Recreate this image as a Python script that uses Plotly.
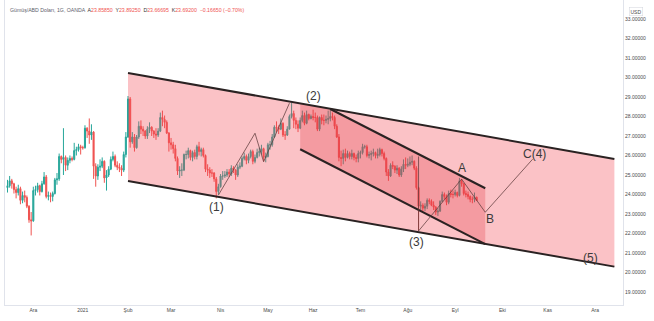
import numpy as np
import pandas as pd
import plotly.graph_objects as go

# ---------------- data ----------------
first_date = "2020-11-13"
last_date = "2021-09-15"
first_open = 24.35

months = ["2020-11", "2020-12", "2021-01", "2021-02", "2021-03", "2021-04",
          "2021-05", "2021-06", "2021-07", "2021-08", "2021-09"]

close_nov = [24.45, 24.70, 24.55, 24.25, 24.10, 24.30, 23.70, 23.95, 23.85, 23.40, 22.70, 22.65]
high_nov = [24.75, 24.95, 24.80, 24.60, 24.40, 24.50, 24.40, 24.15, 24.20, 23.95, 23.45, 23.10]
low_nov = [24.10, 24.35, 24.30, 24.05, 23.80, 23.95, 23.50, 23.55, 23.60, 23.30, 22.55, 21.90]

close_dec = [24.20, 24.25, 24.45, 24.15, 24.55, 24.90, 23.90, 23.95, 23.90, 24.05, 24.75, 24.80,
             25.95, 25.80, 25.90, 25.50, 25.75, 25.85, 25.80, 26.25, 26.30, 26.45, 26.40]
high_dec = [24.40, 24.45, 24.60, 24.50, 24.70, 25.15, 25.00, 24.15, 24.10, 24.15, 24.85, 25.10,
            26.10, 26.00, 27.40, 26.00, 25.90, 26.00, 25.95, 26.65, 26.45, 26.60, 26.55]
low_dec = [22.60, 23.95, 24.10, 23.95, 24.10, 24.50, 23.80, 23.70, 23.60, 23.65, 24.00, 24.50,
           24.70, 25.60, 25.00, 25.20, 25.25, 25.60, 25.70, 25.75, 26.00, 26.20, 26.05]

close_jan = [26.40, 27.40, 27.25, 27.05, 27.20, 25.45, 24.95, 25.40, 25.45, 25.70, 24.85,
             25.00, 25.30, 25.80, 25.95, 25.50, 25.40, 25.35, 25.25, 26.05, 26.95]
high_jan = [26.50, 27.55, 27.45, 27.90, 27.60, 27.25, 25.60, 25.55, 25.80, 25.90, 25.75,
            25.25, 25.45, 25.95, 26.20, 26.05, 25.70, 25.60, 25.50, 26.20, 27.20]
low_jan = [26.30, 26.35, 26.90, 26.60, 26.80, 24.80, 24.40, 24.75, 25.20, 25.35, 24.60,
           24.20, 24.90, 25.25, 25.70, 25.40, 25.25, 25.15, 24.95, 25.15, 25.90]

close_feb = [28.90, 26.70, 26.95, 26.40, 26.95, 27.50, 27.35, 27.25, 27.00, 27.35,
             27.45, 27.25, 27.10, 27.05, 27.25, 27.95, 27.85, 27.70, 27.15, 26.65]
high_feb = [29.05, 29.00, 27.20, 27.10, 27.05, 27.75, 27.80, 27.50, 27.30, 27.50,
            27.70, 27.50, 27.30, 27.40, 27.40, 28.20, 28.30, 28.05, 27.80, 27.20]
low_feb = [26.90, 26.40, 26.60, 26.20, 26.35, 26.85, 27.10, 27.00, 26.85, 26.85,
           27.15, 27.00, 26.90, 26.80, 26.95, 27.20, 27.50, 27.40, 27.10, 26.20]

close_mar = [26.55, 26.35, 25.85, 25.20, 25.25, 25.25, 26.05, 26.05, 26.25, 25.90, 26.15, 25.95,
             26.45, 26.20, 26.30, 26.00, 25.30, 25.25, 25.10, 25.10, 24.80, 24.15, 24.40]
high_mar = [26.90, 26.70, 26.55, 25.95, 25.45, 25.60, 26.10, 26.25, 26.40, 26.30, 26.25, 26.30,
            26.55, 26.70, 26.40, 26.40, 26.05, 25.55, 25.40, 25.30, 25.15, 24.90, 24.55]
low_mar = [26.30, 26.10, 25.70, 25.00, 24.85, 24.95, 25.20, 25.80, 25.85, 25.75, 25.70, 25.80,
           25.80, 26.00, 25.95, 25.90, 25.15, 24.95, 24.85, 24.90, 24.65, 23.80, 24.00]

close_apr = [24.95, 24.95, 25.00, 25.15, 25.05, 25.35, 25.25, 25.00, 25.40, 25.45, 25.85,
             25.95, 25.75, 25.95, 26.20, 25.70, 25.90, 26.15, 26.20, 26.35, 25.90, 25.95]
high_apr = [25.05, 25.20, 25.20, 25.30, 25.30, 25.50, 25.45, 25.30, 25.55, 25.65, 25.95,
            26.15, 26.05, 26.10, 26.30, 26.30, 26.05, 26.35, 26.40, 26.55, 26.40, 26.15]
low_apr = [24.35, 24.75, 24.85, 24.90, 24.90, 24.95, 25.10, 24.75, 24.90, 25.30, 25.40,
           25.75, 25.55, 25.60, 25.85, 25.55, 25.60, 25.85, 25.95, 26.05, 25.70, 25.65]

close_may = [26.55, 26.55, 26.95, 27.45, 27.40, 27.35, 27.65, 27.05, 27.05, 27.35, 28.00,
             28.15, 27.80, 27.60, 27.40, 27.80, 28.05, 27.65, 28.10, 27.90, 28.00]
high_may = [26.65, 26.75, 27.10, 27.55, 27.75, 27.55, 27.90, 27.70, 27.25, 27.50, 28.10,
            28.70, 28.30, 27.95, 27.80, 27.95, 28.30, 28.20, 28.30, 28.15, 28.10]
low_may = [25.90, 26.30, 26.45, 26.90, 27.20, 27.10, 27.30, 26.95, 26.80, 27.00, 27.35,
           27.90, 27.40, 27.35, 27.20, 27.35, 27.70, 27.55, 27.60, 27.80, 27.85]

close_jun = [27.95, 27.95, 27.35, 27.95, 27.80, 27.80, 27.85, 27.90, 28.00, 27.95, 27.50,
             26.95, 25.90, 25.85, 26.10, 25.90, 26.10, 25.95, 26.10, 25.90, 25.85, 26.10]
high_jun = [28.35, 28.20, 28.05, 28.00, 28.10, 28.10, 28.05, 28.30, 28.35, 28.20, 28.05,
            27.60, 27.10, 26.25, 26.30, 26.35, 26.25, 26.20, 26.30, 26.15, 26.05, 26.25]
low_jun = [27.80, 27.70, 27.25, 27.25, 27.60, 27.55, 27.65, 27.60, 27.75, 27.80, 27.35,
           26.90, 25.70, 25.45, 25.55, 25.70, 25.85, 25.80, 25.80, 25.75, 25.65, 25.65]

close_jul = [26.15, 26.45, 26.45, 26.00, 26.05, 26.10, 26.15, 26.00, 26.05, 26.30, 26.10,
             25.85, 25.15, 24.95, 25.50, 25.45, 25.25, 25.35, 25.00, 25.30, 25.55, 25.50]
high_jul = [26.25, 26.60, 26.55, 26.55, 26.20, 26.25, 26.35, 26.20, 26.35, 26.40, 26.35,
            26.20, 25.90, 25.30, 25.60, 25.70, 25.50, 25.50, 25.40, 25.45, 25.80, 25.90]
low_jul = [25.85, 26.05, 26.35, 25.90, 25.85, 25.75, 25.95, 25.85, 25.85, 25.95, 25.95,
           25.75, 24.95, 24.70, 24.90, 25.30, 25.10, 25.05, 24.90, 24.90, 25.15, 25.30]

close_aug = [25.55, 25.65, 25.70, 25.35, 24.35, 23.40, 23.45, 23.30, 23.40, 23.70, 23.65,
             23.45, 23.35, 23.10, 23.15, 23.65, 24.00, 23.90, 23.60, 24.05, 24.00, 24.00]
high_aug = [25.85, 25.95, 26.00, 25.75, 25.45, 24.40, 23.65, 23.55, 23.55, 23.80, 23.80,
            23.75, 23.65, 23.40, 23.30, 23.70, 24.15, 24.10, 24.00, 24.20, 24.25, 24.20]
low_aug = [25.40, 25.45, 25.50, 25.25, 24.25, 22.15, 23.10, 23.15, 23.15, 23.25, 23.50,
           23.40, 23.20, 22.95, 22.90, 23.10, 23.60, 23.75, 23.45, 23.50, 23.85, 23.80]

close_sep = [24.10, 23.95, 24.70, 24.55, 24.05, 24.00, 23.90, 23.75, 23.75, 23.86, 23.69]
high_sep = [24.25, 24.15, 24.85, 24.80, 24.60, 24.20, 24.15, 23.95, 23.90, 24.10, 23.89]
low_sep = [23.90, 23.85, 23.90, 24.40, 23.95, 23.85, 23.75, 23.60, 23.55, 23.60, 23.67]

closes = [close_nov, close_dec, close_jan, close_feb, close_mar, close_apr,
          close_may, close_jun, close_jul, close_aug, close_sep]
highs = [high_nov, high_dec, high_jan, high_feb, high_mar, high_apr,
         high_may, high_jun, high_jul, high_aug, high_sep]
lows = [low_nov, low_dec, low_jan, low_feb, low_mar, low_apr,
        low_may, low_jun, low_jul, low_aug, low_sep]

# axis ticks
tick_months = ["2020-12", "2021-01", "2021-02", "2021-03", "2021-04", "2021-05", "2021-06",
               "2021-07", "2021-08", "2021-09", "2021-10", "2021-11", "2021-12"]
tick_text = ["Ara", "2021", "Şub", "Mar", "Nis", "May", "Haz",
             "Tem", "Ağu", "Eyl", "Eki", "Kas", "Ara"]
price_ticks = list(range(19, 34))

# drawings (time, price anchors)
big_dates = ["2021-02-01", "2021-12-14"]
big_top = [30.23, 25.82]
big_bot = [24.69, 20.30]
inner_top_dates = ["2021-06-11", "2021-09-21"]
inner_top = [28.385, 24.32]
inner_bot_dates = ["2021-05-24", "2021-09-21"]
inner_bot = [26.32, 21.45]
inner_corner_price = 28.67  # where the inner zone meets the outer top line

wave1_dates = ["2021-03-31", "2021-04-23", "2021-04-29", "2021-05-17"]
wave1_prices = [23.97, 27.14, 25.68, 28.68]
wave2_dates = ["2021-08-09", "2021-09-06", "2021-09-21", "2021-10-21"]
wave2_prices = [22.13, 24.79, 23.09, 25.81]
vert_dates = ["2021-08-09", "2021-08-09"]
vert_prices = [25.95, 22.13]

label_text = ["(1)", "(2)", "(3)", "A", "B", "C(4)", "(5)"]
label_dates = ["2021-03-30", "2021-06-01", "2021-08-06", "2021-09-06",
               "2021-09-23", "2021-10-22", "2021-11-29"]
label_prices = [23.37, 29.07, 21.55, 25.34, 22.74, 26.06, 20.76]

header_name = "Gümüş/ABD Doları, 1G, OANDA"
header_keys = ["A", "Y", "D", "K"]
header_vals = ["23.85850", "23.89250", "23.66695", "23.69200"]
header_change = "−0.16650 (−0.70%)"

# ---------------- build ----------------
cal = pd.bdate_range("2020-11-02", "2021-12-31")
cal = cal[cal >= pd.Timestamp(first_date)]
pos = {d: i for i, d in enumerate(cal)}


def xi(d):
    return pos[pd.Timestamp(d)]


dates, c, h, l = [], [], [], []
for m, cl, hl, ll in zip(months, closes, highs, lows):
    md = [d for d in cal if d.strftime("%Y-%m") == m and d <= pd.Timestamp(last_date)]
    n = min(len(md), len(cl), len(hl), len(ll))
    dates += md[:n]
    c += cl[:n]
    h += hl[:n]
    l += ll[:n]

o = [first_open] + c[:-1]
h = [max(a, b, e) for a, b, e in zip(h, o, c)]
l = [min(a, b, e) for a, b, e in zip(l, o, c)]
x = [pos[d] for d in dates]

fig = go.Figure()
fig.add_trace(go.Candlestick(
    x=x, open=o, high=h, low=l, close=c,
    increasing=dict(line=dict(color="#26a69a", width=1), fillcolor="#26a69a"),
    decreasing=dict(line=dict(color="#ef5350", width=1), fillcolor="#ef5350"),
    whiskerwidth=0, showlegend=False, hoverinfo="skip"))


def path(pts, close=False):
    s = "M " + " L ".join(f"{px},{py}" for px, py in pts)
    return s + (" Z" if close else "")


bx0, bx1 = xi(big_dates[0]), xi(big_dates[1])
shapes = []
# outer channel fill
shapes.append(dict(type="path", xref="x", yref="y", layer="above",
                   path=path([(bx0, big_top[0]), (bx1, big_top[1]), (bx1, big_bot[1]), (bx0, big_bot[0])], True),
                   fillcolor="rgba(242,70,82,0.33)", line=dict(width=0)))
# inner zone fill
ix0 = xi(inner_bot_dates[0])
itx0, itx1 = xi(inner_top_dates[0]), xi(inner_top_dates[1])
ibx1 = xi(inner_bot_dates[1])
shapes.append(dict(type="path", xref="x", yref="y", layer="above",
                   path=path([(ix0, inner_corner_price), (itx0, inner_top[0]), (itx1, inner_top[1]),
                              (ibx1, inner_bot[1]), (ix0, inner_bot[0])], True),
                   fillcolor="rgba(225,45,58,0.26)", line=dict(width=0)))
dark = "#2a2222"
for xs, ys in [((bx0, bx1), big_top), ((bx0, bx1), big_bot),
               ((itx0, itx1), inner_top), ((ix0, ibx1), inner_bot)]:
    shapes.append(dict(type="line", xref="x", yref="y", layer="above",
                       x0=xs[0], y0=ys[0], x1=xs[1], y1=ys[1],
                       line=dict(color=dark, width=2)))
thin = dict(color="rgba(95,60,60,0.75)", width=1)
for ds, ps in [(wave1_dates, wave1_prices), (wave2_dates, wave2_prices), (vert_dates, vert_prices)]:
    shapes.append(dict(type="path", xref="x", yref="y", layer="above",
                       path=path([(xi(d), p) for d, p in zip(ds, ps)]), line=thin))

annotations = []
for t, d, p in zip(label_text, label_dates, label_prices):
    annotations.append(dict(x=xi(d), y=p, xref="x", yref="y", text=t, showarrow=False,
                            font=dict(family="Liberation Sans, Arial, sans-serif", size=12, color="#3a3a3a"),
                            xanchor="center", yanchor="middle"))

red = "#ef5350"
hdr = f"<span style='color:#5d606b'>{header_name}</span>"
for k, v in zip(header_keys, header_vals):
    hdr += f"  <span style='color:#333'>{k}</span><span style='color:{red}'>{v}</span>"
hdr += f"  <span style='color:{red}'>{header_change}</span>"
annotations.append(dict(x=0, y=1, xref="paper", yref="paper", text=hdr, showarrow=False,
                        xanchor="left", yanchor="middle", xshift=3, yshift=-10,
                        font=dict(family="Liberation Sans, Arial, sans-serif", size=5.2, color="#5d606b")))
annotations.append(dict(x=1, y=1, xref="paper", yref="paper", text="USD", showarrow=False,
                        xanchor="center", yanchor="middle", xshift=13, yshift=-11,
                        bordercolor="#d1d4dc", borderwidth=0.5, borderpad=1,
                        font=dict(family="Liberation Sans, Arial, sans-serif", size=5, color="#4a4a4a")))

tickvals = []
for m in tick_months:
    md = [pos[d] for d in cal if d.strftime("%Y-%m") == m]
    tickvals.append(md[0])

fig.update_layout(
    width=654, height=321, autosize=False,
    margin=dict(l=5, r=31, t=0, b=16),
    paper_bgcolor="white", plot_bgcolor="white",
    shapes=shapes, annotations=annotations, showlegend=False,
    xaxis=dict(range=[-1.16, 286.0], tickvals=tickvals, ticktext=tick_text,
               showgrid=False, zeroline=False, showline=True, linecolor="#e0e3eb", linewidth=1,
               ticks="", rangeslider=dict(visible=False),
               tickfont=dict(family="Liberation Sans, Arial, sans-serif", size=5, color="#4a4a4a")),
    yaxis=dict(range=[18.333, 33.974], side="right", tickvals=price_ticks, tickformat=".5f",
               showgrid=False, zeroline=False, showline=True, mirror=True,
               linecolor="#e0e3eb", linewidth=1, ticks="",
               tickfont=dict(family="Liberation Sans, Arial, sans-serif", size=5, color="#4a4a4a")),
)

fig.write_html("out.html", config={"displayModeBar": False})
